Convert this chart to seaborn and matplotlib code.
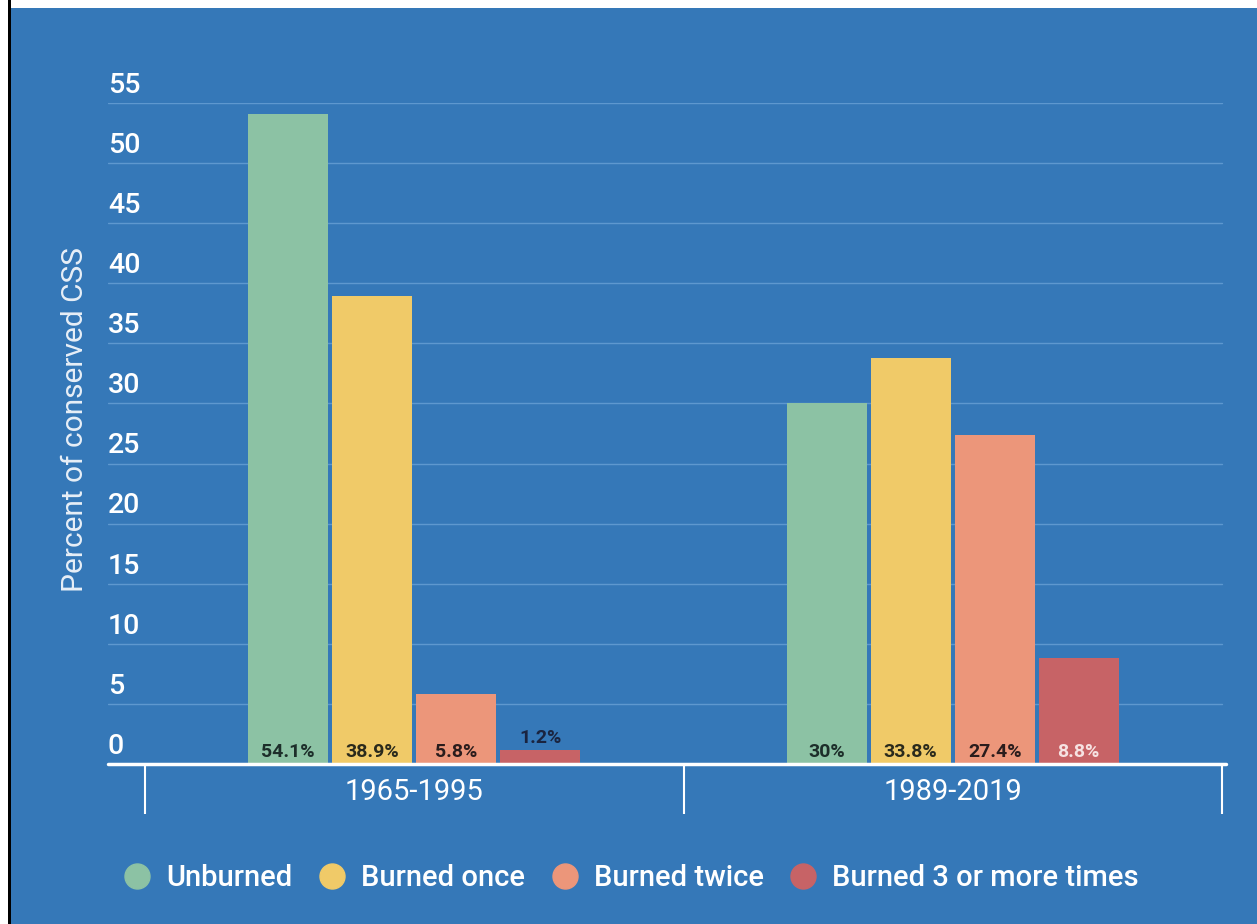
import matplotlib.pyplot as plt
import pandas as pd
import seaborn as sns
from matplotlib.lines import Line2D
from matplotlib.patches import Rectangle

# Données
periods = ["1965-1995", "1989-2019"]
fire_classes = ["Unburned", "Burned once", "Burned twice", "Burned 3 or more times"]
unburned = [54.1, 30.0]
burned_once = [38.9, 33.8]
burned_twice = [5.8, 27.4]
burned_3plus = [1.2, 8.8]
value_labels = [["54.1%", "30%"], ["38.9%", "33.8%"], ["5.8%", "27.4%"], ["1.2%", "8.8%"]]
y_ticks = [0, 5, 10, 15, 20, 25, 30, 35, 40, 45, 50, 55]

colors = ["#8cc2a4", "#f0ca68", "#ec967a", "#c76366"]
label_colors = ["#1d2e2a", "#2a2a1c", "#2a1c1c", "#f6e2e2"]
bg = "#3578b8"

rows = []
for cls, vals in zip(fire_classes, [unburned, burned_once, burned_twice, burned_3plus]):
    for p, v in zip(periods, vals):
        rows.append({"period": p, "class": cls, "value": v})
df = pd.DataFrame(rows)

sns.set_theme(style="white")
plt.rcParams["font.family"] = ["Roboto", "DejaVu Sans"]

fig = plt.figure(figsize=(12.57, 9.24), dpi=100, facecolor=bg)
W, H = 1257, 924
ax = fig.add_axes([108 / W, 1 - 764 / H, (1226 - 108) / W, (764 - 103) / H])
ax.set_facecolor(bg)

sns.barplot(data=df, x="period", y="value", hue="class", order=periods,
            hue_order=fire_classes, palette=colors, width=0.624, gap=0.05,
            saturation=1, legend=False, linewidth=0, edgecolor="none", ax=ax)

ax.set_xlim(-0.5 - 37 / 538.5, 1.5 + 4 / 538.5)
ax.set_ylim(0, 55)
for s in ax.spines.values():
    s.set_visible(False)

# grille et axes
for t in y_ticks[1:]:
    ax.axhline(t, color="#5e98cf", lw=1, zorder=0, xmax=(1222 - 108) / (1226 - 108))
ax.axhline(0, color="white", lw=2.5, zorder=5, clip_on=False)
ax.vlines([-0.5, 0.5, 1.5], 0, -4.2, color="white", lw=1.5, clip_on=False)

ax.set_yticks([])
for t in y_ticks:
    ax.text(0, t + 0.85, str(t), transform=ax.get_yaxis_transform(),
            ha="left", va="baseline", fontsize=20.5, color="white", fontweight="medium")

ax.tick_params(axis="x", length=0, pad=10, labelsize=21, labelcolor="white")
ax.set_xlabel("")
ax.set_ylabel("")

# étiquettes des barres
for i, cont in enumerate(ax.containers):
    for j, patch in enumerate(cont.patches):
        h = patch.get_height()
        xc = patch.get_x() + patch.get_width() / 2
        if h < 2.5:
            y, col = h + 0.55, "#1a2440"
        else:
            y, col = 0.55, label_colors[i]
        ax.text(xc, y, value_labels[i][j], ha="center", va="baseline",
                fontsize=14, fontweight="bold", color=col, zorder=6)

fig.text(75 / W, 1 - 420 / H, "Percent of conserved CSS", rotation=90,
         ha="center", va="center", fontsize=21.5, color="#e8eff7")

handles = [Line2D([], [], marker="o", ls="", markersize=18, markerfacecolor=c,
                  markeredgecolor=c) for c in colors]
fig.legend(handles, fire_classes, loc="center", bbox_to_anchor=(631 / W, 1 - 878 / H),
           ncol=4, frameon=False, labelcolor="white",
           handletextpad=0.5, columnspacing=0.85, handlelength=1.0,
           prop={"weight": "medium", "size": 21})

# cadre de l'image
fig.patches.append(Rectangle((0, 1 - 8 / H), 1, 8 / H, transform=fig.transFigure,
                             facecolor="white", edgecolor="none", zorder=10))
fig.patches.append(Rectangle((0, 0), 8 / W, 1, transform=fig.transFigure,
                             facecolor="white", edgecolor="none", zorder=10))
fig.patches.append(Rectangle((8 / W, 0), 2.5 / W, 1, transform=fig.transFigure,
                             facecolor="black", edgecolor="none", zorder=11))

fig.savefig("out.png", dpi=100, facecolor=bg)
